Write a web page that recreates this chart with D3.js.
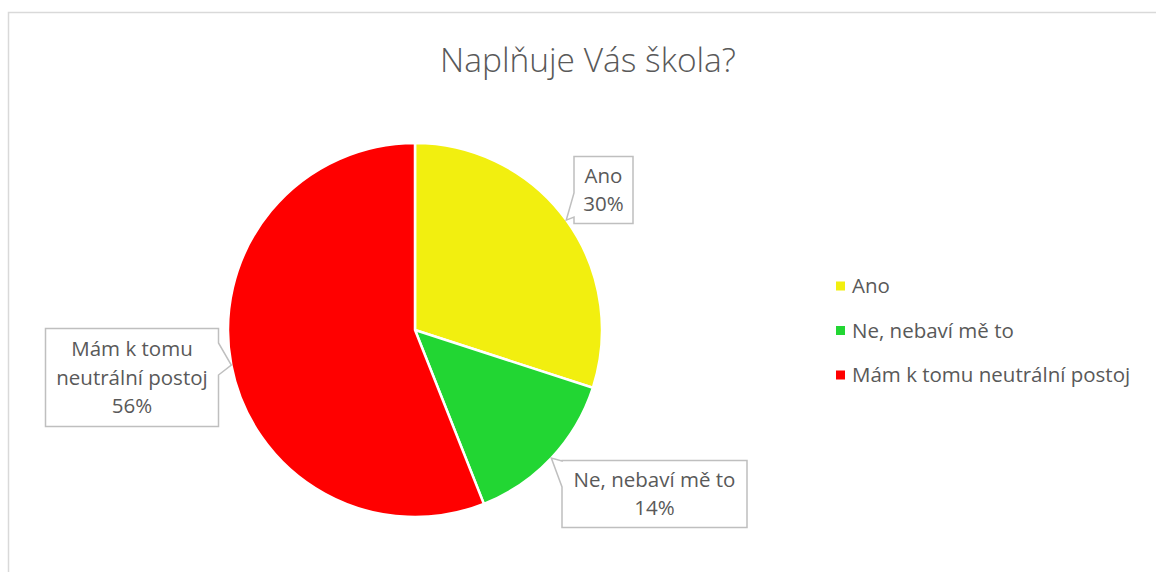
<!DOCTYPE html>
<html>
<head>
<meta charset="utf-8">
<script src="https://cdn.jsdelivr.net/npm/d3@7"></script>
<style>
  body { margin: 0; background: #fff; }
  text { font-family: "Open Sans", "Noto Sans", sans-serif; fill: #595959; }
</style>
</head>
<body>
<script>
// data
var categories = ["Ano", "Ne, nebaví mě to", "Mám k tomu neutrální postoj"];
var values = [30, 14, 56];
var colors = ["#f2ef0f", "#22d633", "#ff0000"];
var chartTitle = "Naplňuje Vás škola?";

// layout
var W = 1156, H = 572;
var CX = 415, CY = 330, R = 187;

var svg = d3.select("body").append("svg")
  .attr("width", W).attr("height", H);

// outer frame of the chart area
svg.append("rect")
  .attr("x", 8.5).attr("y", 12.5)
  .attr("width", W + 10).attr("height", H + 10)
  .attr("fill", "none").attr("stroke", "#d9d9d9").attr("stroke-width", 1.5);

svg.append("text")
  .attr("x", 588).attr("y", 72)
  .attr("text-anchor", "middle")
  .attr("font-size", 33.5)
  .attr("font-weight", 300)
  .text(chartTitle);

var pie = d3.pie().sort(null).value(function (d) { return d; });
var arcs = pie(values);
var arc = d3.arc().innerRadius(0).outerRadius(R);

var g = svg.append("g").attr("transform", "translate(" + CX + "," + CY + ")");
g.selectAll("path").data(arcs).enter().append("path")
  .attr("d", arc)
  .attr("fill", function (d, i) { return colors[i]; })
  .attr("stroke", "#fff").attr("stroke-width", 2.5);

// callout boxes (x, y, w, h) and where the pointer leaves the box
var boxes = [
  { x: 574, y: 156.5, w: 59, h: 67, side: "left", b0: 193, b1: 217 },
  { x: 562, y: 460.5, w: 185, h: 67, side: "left", b0: 461, b1: 487 },
  { x: 45.5, y: 328.5, w: 173, h: 98, side: "right", b0: 343, b1: 375 }
];

function calloutPath(b, tx, ty) {
  var x0 = b.x, y0 = b.y, x1 = b.x + b.w, y1 = b.y + b.h;
  var p = d3.path();
  p.moveTo(x0, y0);
  p.lineTo(x1, y0);
  if (b.side === "right") {
    p.lineTo(x1, b.b0); p.lineTo(tx, ty); p.lineTo(x1, b.b1);
  }
  p.lineTo(x1, y1);
  p.lineTo(x0, y1);
  if (b.side === "left") {
    p.lineTo(x0, b.b1); p.lineTo(tx, ty); p.lineTo(x0, b.b0);
  }
  p.closePath();
  return p.toString();
}

arcs.forEach(function (d, i) {
  var mid = (d.startAngle + d.endAngle) / 2;
  var tx = CX + R * Math.sin(mid);
  var ty = CY - R * Math.cos(mid);
  var b = boxes[i];
  svg.append("path")
    .attr("d", calloutPath(b, tx, ty))
    .attr("fill", "#fff").attr("stroke", "#bfbfbf").attr("stroke-width", 1.5);

  var pct = Math.round(100 * (d.endAngle - d.startAngle) / (2 * Math.PI)) + "%";
  var lines = i === 2 ? ["Mám k tomu", "neutrální postoj", pct] : [categories[i], pct];
  var lh = 28.5;
  var top = b.y + b.h / 2 - (lines.length - 1) * lh / 2;
  var t = svg.append("text")
    .attr("text-anchor", "middle")
    .attr("font-size", 20.5);
  lines.forEach(function (s, k) {
    t.append("tspan")
      .attr("x", b.x + b.w / 2)
      .attr("y", top + k * lh)
      .attr("dy", "0.35em")
      .text(s);
  });
});

// legend
var legY = d3.scalePoint().domain(categories).range([286, 375]);
var leg = svg.append("g");
categories.forEach(function (c, i) {
  leg.append("rect")
    .attr("x", 836).attr("y", legY(c) - 4.5)
    .attr("width", 9).attr("height", 9)
    .attr("fill", colors[i]);
  leg.append("text")
    .attr("x", 852).attr("y", legY(c))
    .attr("dy", "0.35em")
    .attr("font-size", 20.5)
    .text(c);
});
</script>
</body>
</html>
